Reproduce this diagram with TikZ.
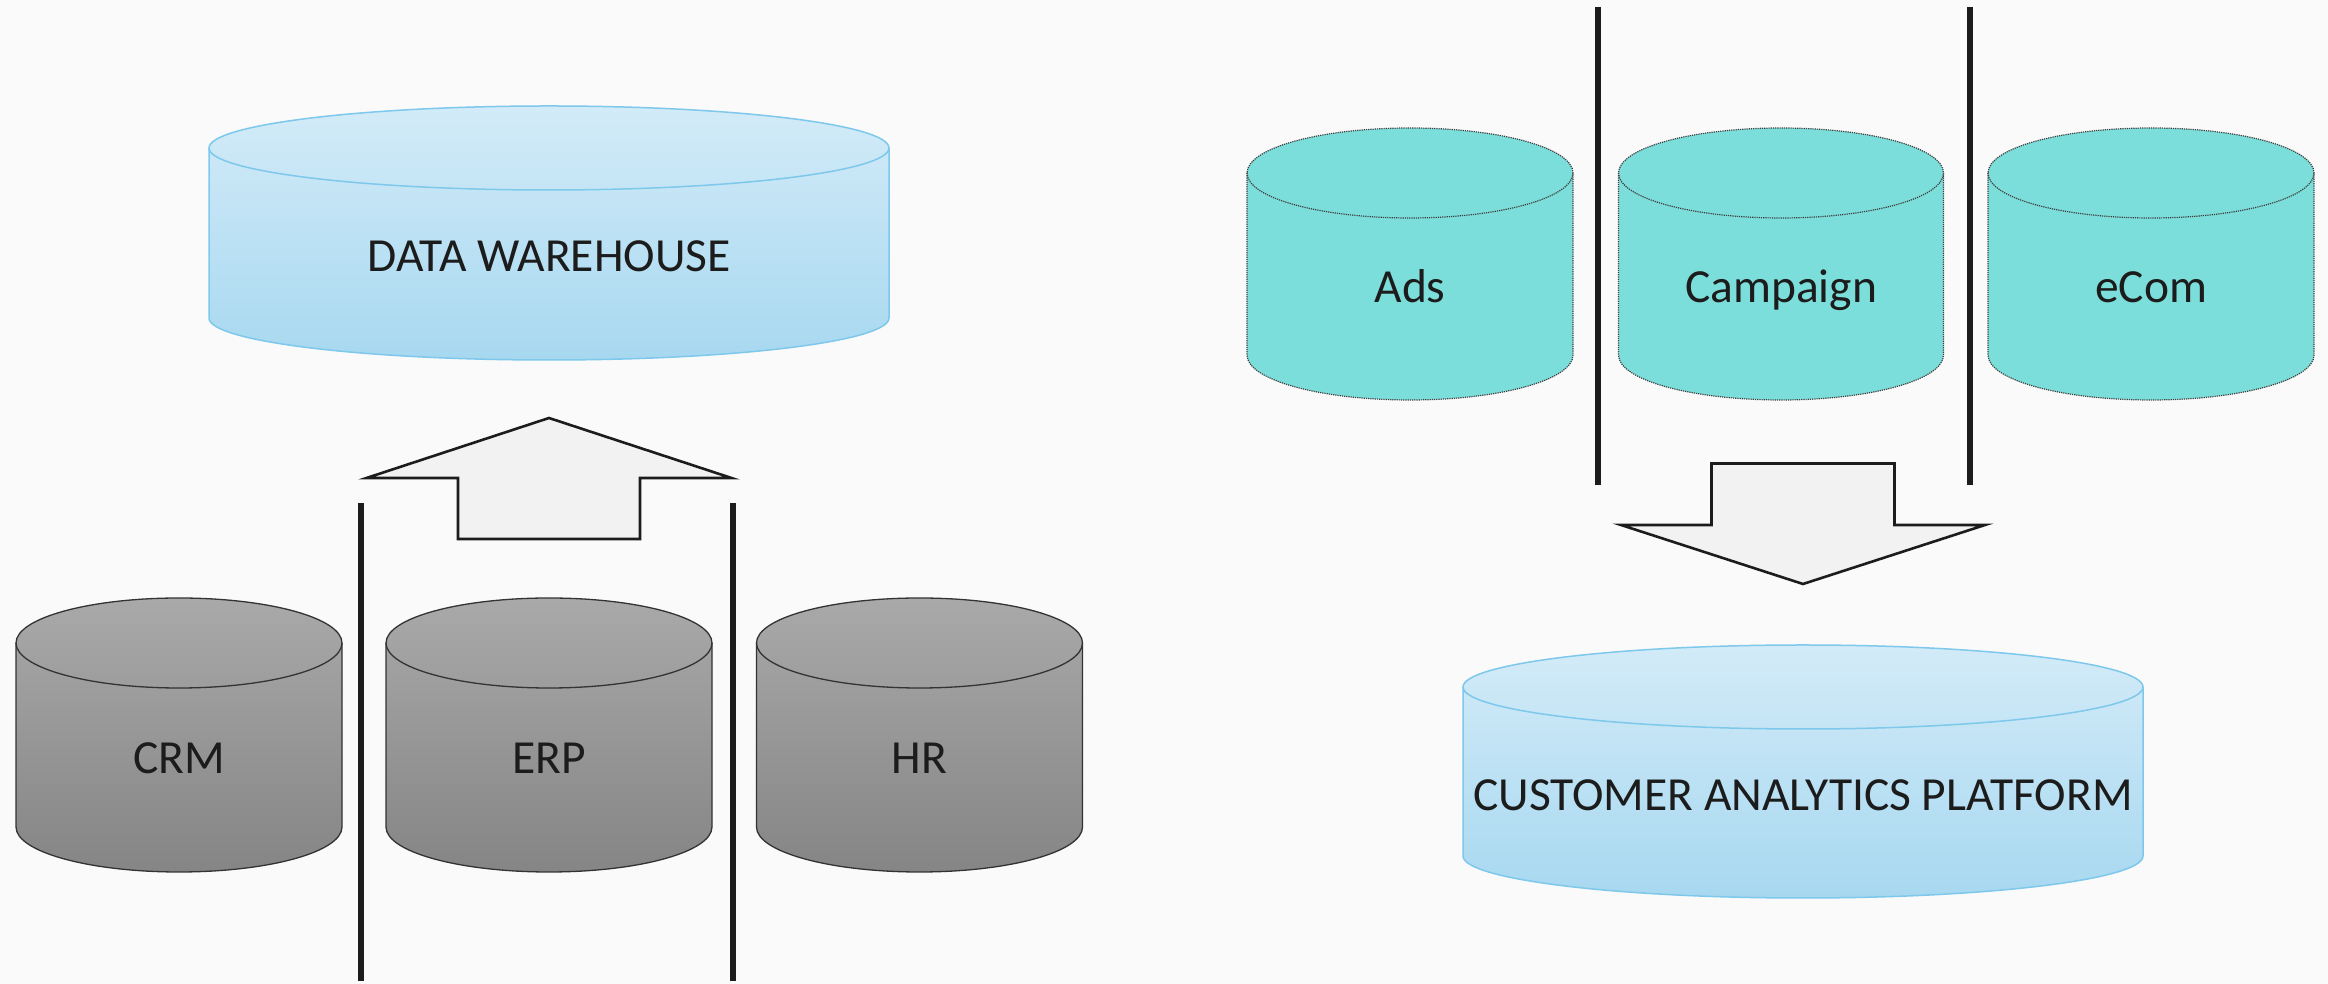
\documentclass[tikz,border=0pt]{standalone}
\usepackage{fontspec}
\newfontfamily\lblfont{Carlito}

\definecolor{bgcol}{HTML}{FAFAFA}
\definecolor{graytop}{HTML}{A9A9A9}
\definecolor{graybot}{HTML}{858585}
\definecolor{bluetop}{HTML}{D3EBF8}
\definecolor{bluebot}{HTML}{A7D8F0}
\definecolor{blueline}{HTML}{7DC8EB}
\definecolor{tealfill}{HTML}{7CDEDB}
\definecolor{inkcol}{HTML}{1C1C1C}
\definecolor{arrowfill}{HTML}{F2F2F2}

\tikzset{
  graybody/.style={top color=graytop, bottom color=graybot, draw=inkcol!90, line width=1.3pt},
  grayrim/.style={draw=inkcol!90, line width=1.3pt},
  bluebody/.style={top color=bluetop, bottom color=bluebot, draw=blueline, line width=1.5pt},
  bluerim/.style={draw=blueline, line width=1.5pt},
  tealbody/.style={fill=tealfill, draw=inkcol!85, line width=1.2pt, densely dotted},
  tealrim/.style={draw=inkcol!85, line width=1.2pt, densely dotted},
  lbl/.style={font=\lblfont\fontsize{47.5}{57}\selectfont, text=inkcol, inner sep=0pt},
  divider/.style={draw=inkcol, line width=5.5pt},
  blockarrow/.style={fill=arrowfill, draw=inkcol, line width=2.6pt, line join=miter},
}

% database cylinder: #1 name, #2 centre x, #3 top rim row, #4 bottom rim row,
% #5 x radius, #6 y radius, #7 colour scheme, #8 label (rows counted from the top)
\newcommand\dbcyl[8]{%
  \path[#7body] (#2-#5,984-#3) -- (#2-#5,984-#4)
    arc[start angle=180, end angle=360, x radius=#5pt, y radius=#6pt]
    -- (#2+#5,984-#3)
    arc[start angle=0, end angle=180, x radius=#5pt, y radius=#6pt] -- cycle;
  \draw[#7rim] (#2-#5,984-#3)
    arc[start angle=180, end angle=360, x radius=#5pt, y radius=#6pt];
  \node[lbl, anchor=base] (#1) at (#2,{984-(#3+#4)/2-39}) {#8};
}

\begin{document}
\begin{tikzpicture}[x=1pt, y=1pt]
  \fill[bgcol] (0,0) rectangle (2328,984);
  \useasboundingbox (0,0) rectangle (2328,984);

  % ---------- left: operational sources feeding the warehouse ----------
  \dbcyl{dw}{549}{148}{318}{340}{42}{blue}{DATA WAREHOUSE}
  \dbcyl{crm}{179}{643}{827}{163}{45}{gray}{CRM}
  \dbcyl{erp}{549}{643}{827}{163}{45}{gray}{ERP}
  \dbcyl{hr}{919.5}{643}{827}{163}{45}{gray}{HR}

  \coordinate (ldA1) at (361,481);  \coordinate (ldA2) at (361,3);
  \coordinate (ldB1) at (733,481);  \coordinate (ldB2) at (733,3);
  \draw[divider] (ldA1) -- (ldA2);
  \draw[divider] (ldB1) -- (ldB2);

  % upward block arrow
  \draw[blockarrow] (549,566) -- (731.5,506) -- (640,506) -- (640,445)
    -- (458,445) -- (458,506) -- (366.5,506) -- cycle;

  % ---------- right: marketing sources feeding the analytics platform ----------
  \dbcyl{ads}{1410}{173}{355}{163}{45}{teal}{Ads}
  \dbcyl{campaign}{1781}{173}{355}{162.5}{45}{teal}{Campaign}
  \dbcyl{ecom}{2151}{173}{355}{163}{45}{teal}{eCom}
  \dbcyl{cap}{1803}{687}{856}{340}{42}{blue}{CUSTOMER ANALYTICS PLATFORM}

  \coordinate (rdA1) at (1598,977);  \coordinate (rdA2) at (1598,498.5);
  \coordinate (rdB1) at (1970,977);  \coordinate (rdB2) at (1970,498.5);
  \draw[divider] (rdA1) -- (rdA2);
  \draw[divider] (rdB1) -- (rdB2);

  % downward block arrow
  \draw[blockarrow] (1711.5,520.5) -- (1894.5,520.5) -- (1894.5,459)
    -- (1985,459) -- (1803,400) -- (1621,459) -- (1711.5,459) -- cycle;
\end{tikzpicture}
\end{document}
